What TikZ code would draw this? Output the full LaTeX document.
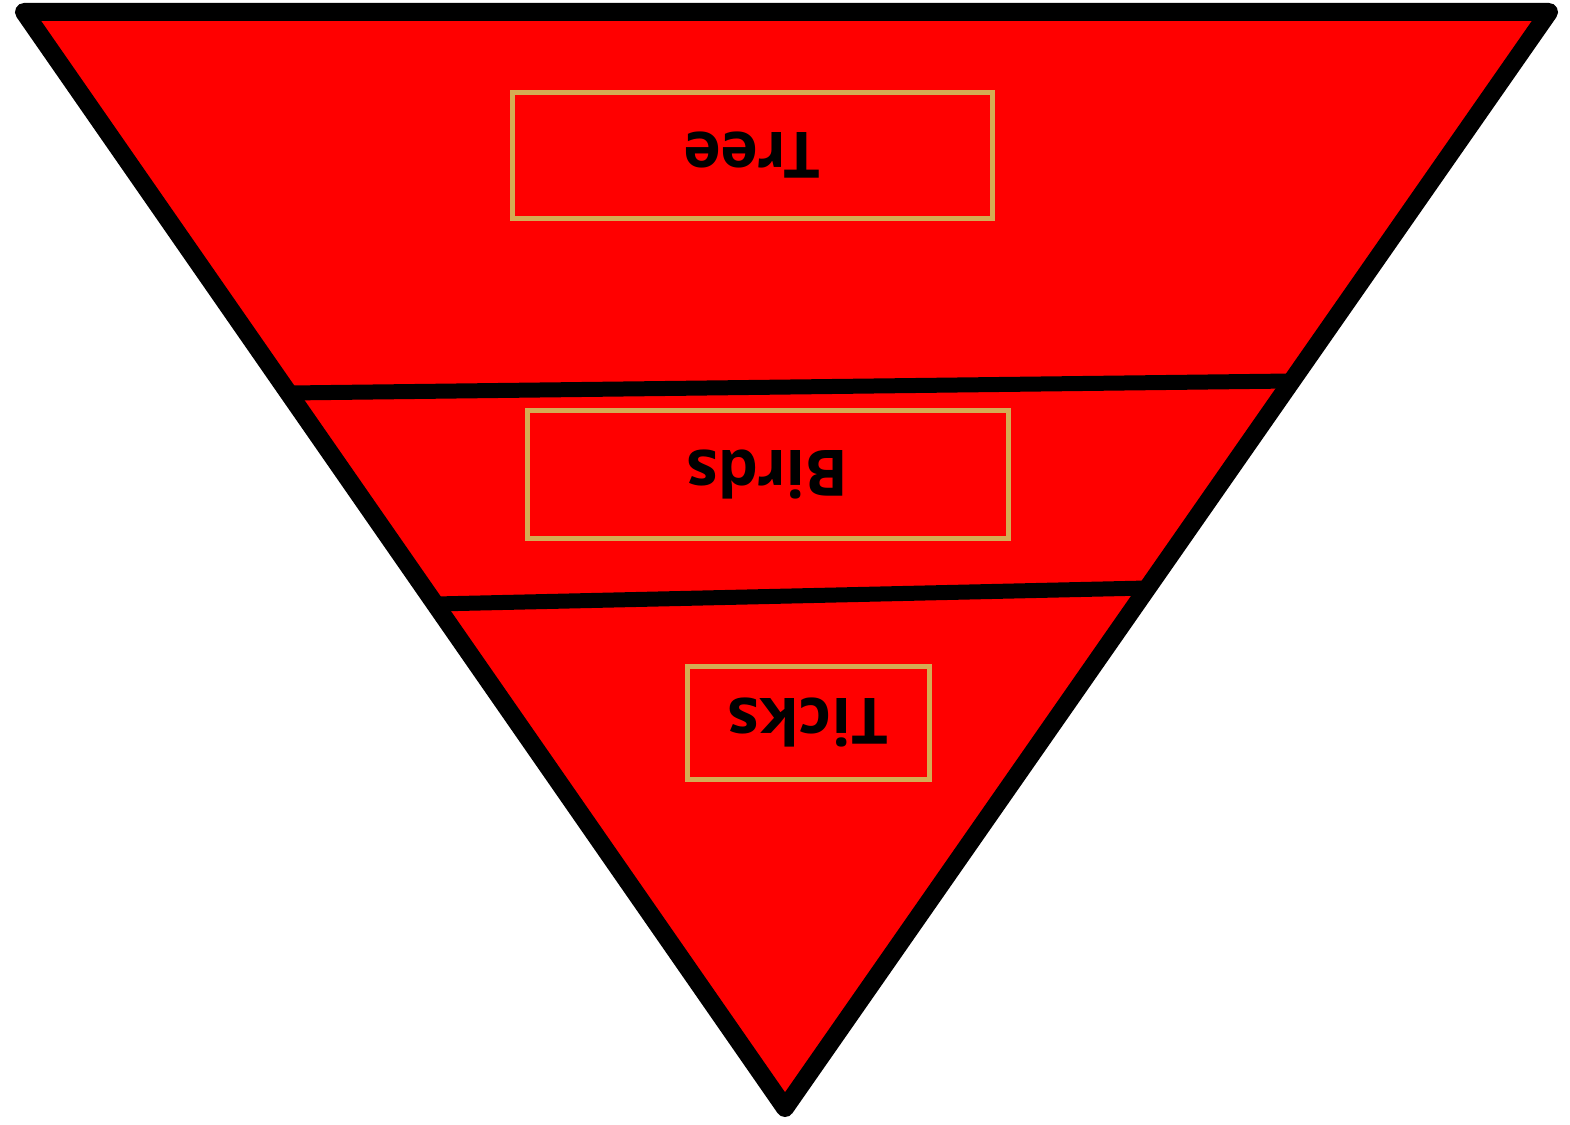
\documentclass[tikz,border=0pt]{standalone}
\usepackage{fontspec}
\newfontfamily\labelfont{Open Sans}
\definecolor{fillred}{RGB}{255,0,0}
\definecolor{boxgold}{RGB}{212,172,84}
\begin{document}
\begin{tikzpicture}[x=1pt,y=-1pt,
  outline/.style={draw=black,line width=18pt,line join=round,line cap=round},
  divider/.style={draw=black,line width=15pt},
  labelbox/.style={draw=boxgold,line width=5pt,rotate=180,inner sep=0pt,
    font=\labelfont\bfseries\fontsize{64}{76}\selectfont,text=black}]
\useasboundingbox (0,0) rectangle (1570,1124);
\coordinate (tl) at (24,12);
\coordinate (tr) at (1549,12);
\coordinate (bt) at (785,1108);
\coordinate (d1l) at (289,393);
\coordinate (d1r) at (1291,381);
\coordinate (d2l) at (435.5,604);
\coordinate (d2r) at (1147,588);
\fill[fillred] (tl) -- (tr) -- (bt) -- cycle;
\draw[divider] (d1l) -- (d1r);
\draw[divider] (d2l) -- (d2r);
\draw[outline] (tl) -- (tr) -- (bt) -- cycle;
\node[labelbox,minimum width=480pt,minimum height=126pt] (tree) at (752,155) {Tree};
\node[labelbox,minimum width=481pt,minimum height=128pt] (birds) at (767.5,474) {Birds};
\node[labelbox,minimum width=242pt,minimum height=113pt] (ticks) at (808,722.5) {Ticks};
\end{tikzpicture}
\end{document}
